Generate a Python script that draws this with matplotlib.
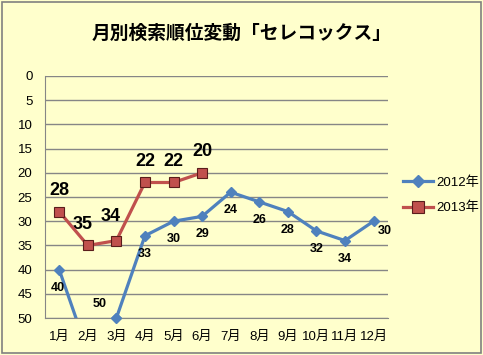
import numpy as np
import matplotlib.pyplot as plt
from matplotlib.patches import Rectangle

plt.rcParams['font.family'] = ['Liberation Sans', 'Noto Sans CJK JP']

months = ['1月', '2月', '3月', '4月', '5月', '6月', '7月', '8月', '9月', '10月', '11月', '12月']
rank_2012 = [40, 57, 50, 33, 30, 29, 24, 26, 28, 32, 34, 30]
rank_2013 = [28, 35, 34, 22, 22, 20]
# label offsets in points (x, y)
off_2012 = [(-1, -13), None, (-12, 10), (0, -13), (0, -13), (0, -13), (0, -13), (0, -13), (0, -13), (0, -13), (0, -13), (8, -7)]
off_2013 = [(0, 15), (-4, 15), (-4, 17), (0, 15), (0, 15), (0, 15)]

title = '月別検索順位変動「セレコックス」'
blue = '#4F81BD'
red = '#C0504D'

fig = plt.figure(figsize=(4.83, 3.55), dpi=100, facecolor='#FFFFCC')
fig.patches.append(Rectangle((0.004, 0.006), 0.992, 0.988, transform=fig.transFigure,
                             fill=False, edgecolor='#808080', linewidth=1.2))
ax = fig.add_axes([0.093, 0.104, 0.71, 0.682])
ax.set_facecolor('#FFFFCC')

x1 = np.arange(1, len(rank_2012) + 1)
x2 = np.arange(1, len(rank_2013) + 1)
l1, = ax.plot(x1, rank_2012, color=blue, lw=2.3, marker='D', ms=5.5,
              markeredgecolor=blue, label='2012年', zorder=3)
l2, = ax.plot(x2, rank_2013, color=red, lw=2.3, marker='s', ms=7.5,
              markeredgecolor='#5a1d1b', markeredgewidth=0.8, label='2013年', zorder=4)
# marker at bottom edge should be fully visible
ax.plot([3], [50], marker='D', ms=5.5, color=blue, clip_on=False, zorder=3)

for x, v, o in zip(x1, rank_2012, off_2012):
    if o is None:
        continue
    ax.annotate(str(v), (x, v), xytext=o, textcoords='offset points',
                ha='center', va='center', fontsize=9, fontweight='bold',
                annotation_clip=False)
for x, v, o in zip(x2, rank_2013, off_2013):
    ax.annotate(str(v), (x, v), xytext=o, textcoords='offset points',
                ha='center', va='center', fontsize=13, fontweight='bold')

ax.set_xlim(0.5, 12.5)
ax.set_ylim(50, 0)
ax.set_yticks(np.arange(0, 51, 5))
ax.set_xticks(x1)
ax.set_xticklabels(months)
ax.tick_params(length=0, labelsize=9.5, colors='black')
ax.tick_params(axis='y', pad=9)
ax.tick_params(axis='x', pad=9)
ax.grid(axis='y', color='#868686', lw=1)
ax.set_axisbelow(True)
for s in ['top', 'right']:
    ax.spines[s].set_visible(False)
ax.spines['left'].set_color('#868686')
ax.spines['bottom'].set_color('#868686')

fig.text(0.5, 0.905, title, ha='center', va='center', fontsize=13.5,
         fontweight='bold', family='Noto Sans CJK JP')
leg = fig.legend(handles=[l1, l2], loc='center left', bbox_to_anchor=(0.81, 0.45),
                 frameon=False, fontsize=9.5, handlelength=2.3, labelspacing=1.0,
                 handletextpad=0.2, markerscale=1.1)

fig.savefig('out.png', dpi=100, facecolor=fig.get_facecolor())
